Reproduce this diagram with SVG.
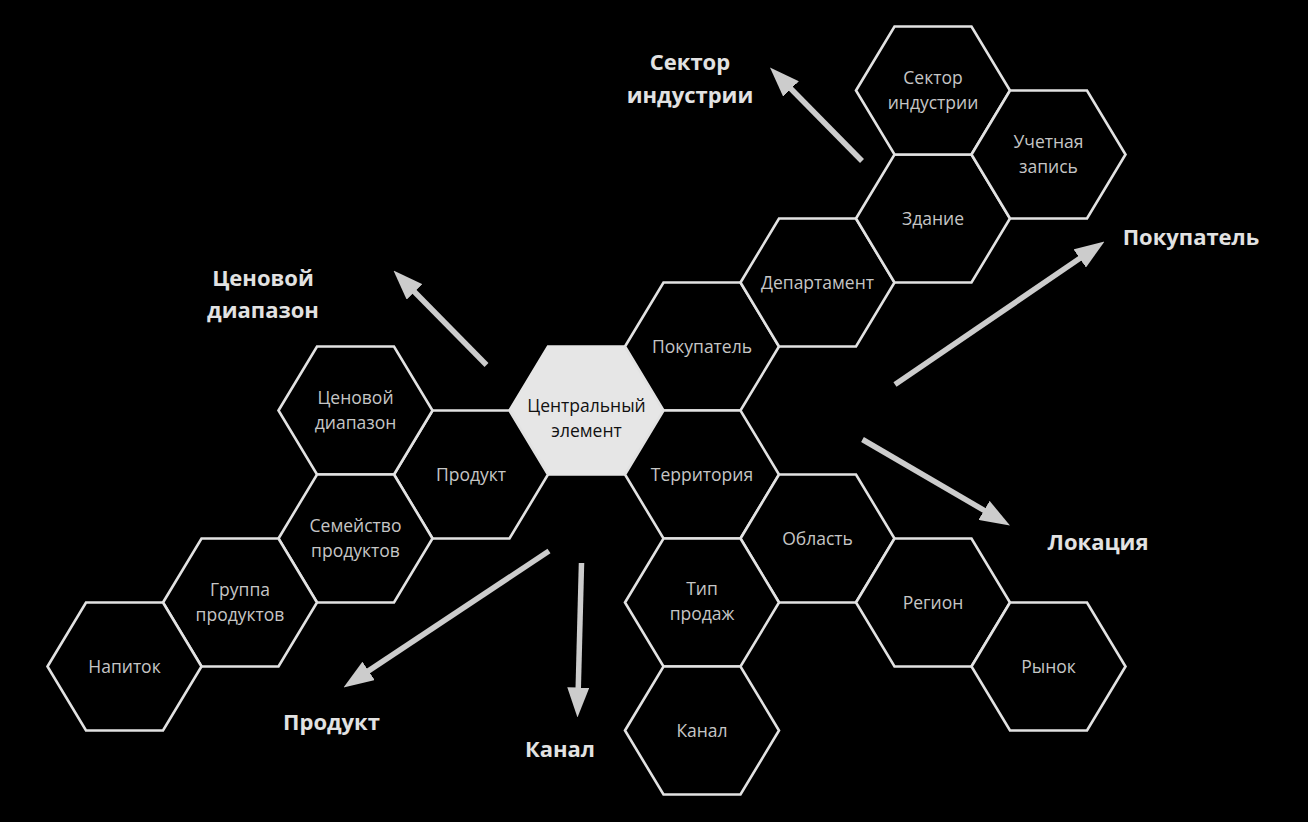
<svg xmlns="http://www.w3.org/2000/svg" width="1308" height="822" viewBox="0 0 1308 822">
<style>
.hex{fill:#000;stroke:#e2e2e2;stroke-width:2.6;stroke-linejoin:miter}
.hexc{fill:#e6e6e6;stroke:#e6e6e6;stroke-width:2.6}
.t{font-family:"Open Sans","Liberation Sans",sans-serif;font-size:17.5px;fill:#c6c6c6;text-anchor:middle}
.tc{font-family:"Open Sans","Liberation Sans",sans-serif;font-size:17.5px;fill:#111;text-anchor:middle}
.big{font-family:"Open Sans","Liberation Sans",sans-serif;font-size:22px;font-weight:bold;fill:#e2e2e2;text-anchor:middle}
.arr{stroke:#cccccc;stroke-width:5.5;fill:none;stroke-linecap:butt}
</style>
<defs>
<marker id="ah" markerUnits="userSpaceOnUse" viewBox="0 0 30 22" markerWidth="30" markerHeight="22" refX="10" refY="11" orient="auto">
<path d="M0,0 L30,11 L0,22 z" fill="#cccccc"/>
</marker>
</defs>
<rect x="0" y="0" width="1308" height="822" fill="#000"/>

<g id="node-central"><polygon class="hexc" points="509.5,410.5 548,346.5 625,346.5 663.5,410.5 625,474.5 548,474.5"/><text class="tc" x="586.5" y="411.5">Центральный</text><text class="tc" x="586.5" y="436.5">элемент</text></g>
<g id="node-pokupatel"><polygon class="hex" points="625,346.5 663.5,282.5 740.5,282.5 779,346.5 740.5,410.5 663.5,410.5"/><text class="t" x="702" y="353">Покупатель</text></g>
<g id="node-departament"><polygon class="hex" points="740.5,282.5 779,218.5 856,218.5 894.5,282.5 856,346.5 779,346.5"/><text class="t" x="817.5" y="289">Департамент</text></g>
<g id="node-zdanie"><polygon class="hex" points="856,218.5 894.5,154.5 971.5,154.5 1010,218.5 971.5,282.5 894.5,282.5"/><text class="t" x="933" y="225">Здание</text></g>
<g id="node-sektor"><polygon class="hex" points="856,90.5 894.5,26.5 971.5,26.5 1010,90.5 971.5,154.5 894.5,154.5"/><text class="t" x="933" y="84">Сектор</text><text class="t" x="933" y="109">индустрии</text></g>
<g id="node-uchetnaya"><polygon class="hex" points="971.5,154.5 1010,90.5 1087,90.5 1125.5,154.5 1087,218.5 1010,218.5"/><text class="t" x="1048.5" y="148">Учетная</text><text class="t" x="1048.5" y="173">запись</text></g>
<g id="node-territoriya"><polygon class="hex" points="625,474.5 663.5,410.5 740.5,410.5 779,474.5 740.5,538.5 663.5,538.5"/><text class="t" x="702" y="481">Территория</text></g>
<g id="node-oblast"><polygon class="hex" points="740.5,538.5 779,474.5 856,474.5 894.5,538.5 856,602.5 779,602.5"/><text class="t" x="817.5" y="545">Область</text></g>
<g id="node-region"><polygon class="hex" points="856,602.5 894.5,538.5 971.5,538.5 1010,602.5 971.5,666.5 894.5,666.5"/><text class="t" x="933" y="609">Регион</text></g>
<g id="node-rynok"><polygon class="hex" points="971.5,666.5 1010,602.5 1087,602.5 1125.5,666.5 1087,730.5 1010,730.5"/><text class="t" x="1048.5" y="673">Рынок</text></g>
<g id="node-tip"><polygon class="hex" points="625,602.5 663.5,538.5 740.5,538.5 779,602.5 740.5,666.5 663.5,666.5"/><text class="t" x="702" y="595">Тип</text><text class="t" x="702" y="620">продаж</text></g>
<g id="node-kanal"><polygon class="hex" points="625,730.5 663.5,666.5 740.5,666.5 779,730.5 740.5,794.5 663.5,794.5"/><text class="t" x="702" y="737">Канал</text></g>
<g id="node-produkt"><polygon class="hex" points="394,474.5 432.5,410.5 509.5,410.5 548,474.5 509.5,538.5 432.5,538.5"/><text class="t" x="471" y="481">Продукт</text></g>
<g id="node-cenovoy"><polygon class="hex" points="278.5,410.5 317,346.5 394,346.5 432.5,410.5 394,474.5 317,474.5"/><text class="t" x="355.5" y="404">Ценовой</text><text class="t" x="355.5" y="429">диапазон</text></g>
<g id="node-semeystvo"><polygon class="hex" points="278.5,538.5 317,474.5 394,474.5 432.5,538.5 394,602.5 317,602.5"/><text class="t" x="355.5" y="532">Семейство</text><text class="t" x="355.5" y="557">продуктов</text></g>
<g id="node-gruppa"><polygon class="hex" points="163,602.5 201.5,538.5 278.5,538.5 317,602.5 278.5,666.5 201.5,666.5"/><text class="t" x="240" y="596">Группа</text><text class="t" x="240" y="621">продуктов</text></g>
<g id="node-napitok"><polygon class="hex" points="47.5,666.5 86,602.5 163,602.5 201.5,666.5 163,730.5 86,730.5"/><text class="t" x="124.5" y="673">Напиток</text></g>

<g id="connectors">
<line class="arr" x1="862" y1="161" x2="784" y2="81.8" marker-end="url(#ah)"/>
<line class="arr" x1="895" y1="384.5" x2="1088" y2="252.8" marker-end="url(#ah)"/>
<line class="arr" x1="862.5" y1="439.5" x2="992.7" y2="515.4" marker-end="url(#ah)"/>
<line class="arr" x1="581.5" y1="563" x2="578" y2="697.5" marker-end="url(#ah)"/>
<line class="arr" x1="549" y1="551" x2="360.2" y2="676.4" marker-end="url(#ah)"/>
<line class="arr" x1="486.5" y1="365" x2="407.5" y2="284.8" marker-end="url(#ah)"/>
</g>

<g id="labels">
<text class="big" x="690" y="69.5">Сектор</text>
<text class="big" x="690" y="102.5">индустрии</text>
<text class="big" x="1191" y="245">Покупатель</text>
<text class="big" x="1098" y="549.5">Локация</text>
<text class="big" x="560" y="757">Канал</text>
<text class="big" x="331.5" y="730">Продукт</text>
<text class="big" x="263" y="286">Ценовой</text>
<text class="big" x="263" y="318">диапазон</text>
</g>
</svg>
